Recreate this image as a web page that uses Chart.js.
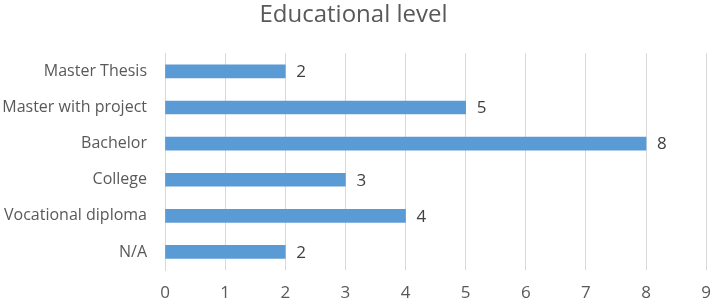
<!DOCTYPE html>
<html>
<head>
<meta charset="utf-8">
<script src="https://cdn.jsdelivr.net/npm/chart.js@4/dist/chart.umd.min.js"></script>
<style>
html,body{margin:0;padding:0;background:#fff;}
#wrap{width:713px;height:301px;position:relative;}
</style>
</head>
<body>
<div id="wrap"><canvas id="c" width="713" height="301"></canvas></div>
<script>
const categories = ["Master Thesis", "Master with project", "Bachelor", "College", "Vocational diploma", "N/A"];
const counts = [2, 5, 8, 3, 4, 2];
const xTicks = [0, 1, 2, 3, 4, 5, 6, 7, 8, 9];
const chartTitle = "Educational level";

const FONT = "'Open Sans', 'Noto Sans', sans-serif";
const TEXT = "#595959";

const valueLabels = {
  id: 'valueLabels',
  afterDatasetsDraw(chart) {
    const ctx = chart.ctx;
    const meta = chart.getDatasetMeta(0);
    ctx.save();
    ctx.font = "17px " + FONT;
    ctx.fillStyle = "#404040";
    ctx.textAlign = "left";
    ctx.textBaseline = "middle";
    meta.data.forEach((bar, i) => {
      ctx.fillText(String(counts[i]), bar.x + 11, bar.y + 1);
    });
    ctx.restore();
  }
};

new Chart(document.getElementById('c'), {
  type: 'bar',
  data: {
    labels: categories,
    datasets: [{
      data: counts,
      backgroundColor: '#5b9bd5',
      borderWidth: 0,
      barThickness: 13
    }]
  },
  plugins: [valueLabels],
  options: {
    indexAxis: 'y',
    responsive: false,
    animation: false,
    devicePixelRatio: 1,
    layout: { padding: { left: 0, right: 6, top: 0, bottom: 0 } },
    plugins: {
      legend: { display: false },
      tooltip: { enabled: false },
      title: {
        display: true,
        text: chartTitle,
        color: TEXT,
        font: { family: FONT, size: 24, weight: 'normal' },
        padding: { top: 1, bottom: 23.5 }
      }
    },
    scales: {
      x: {
        min: 0,
        max: 9,
        afterBuildTicks(scale) { scale.ticks = xTicks.map(v => ({ value: v })); },
        afterFit(scale) { scale.height = 31; },
        grid: { color: '#d9d9d9', lineWidth: 1, drawTicks: false },
        border: { display: false },
        ticks: { color: TEXT, font: { family: FONT, size: 17, lineHeight: 2.45 }, padding: 2 }
      },
      y: {
        afterFit(scale) { scale.width = 165; },
        grid: { display: false, drawTicks: false },
        border: { display: true, color: '#d9d9d9', width: 1 },
        ticks: { color: TEXT, font: { family: FONT, size: 16 }, padding: 18 }
      }
    }
  }
});
</script>
</body>
</html>
